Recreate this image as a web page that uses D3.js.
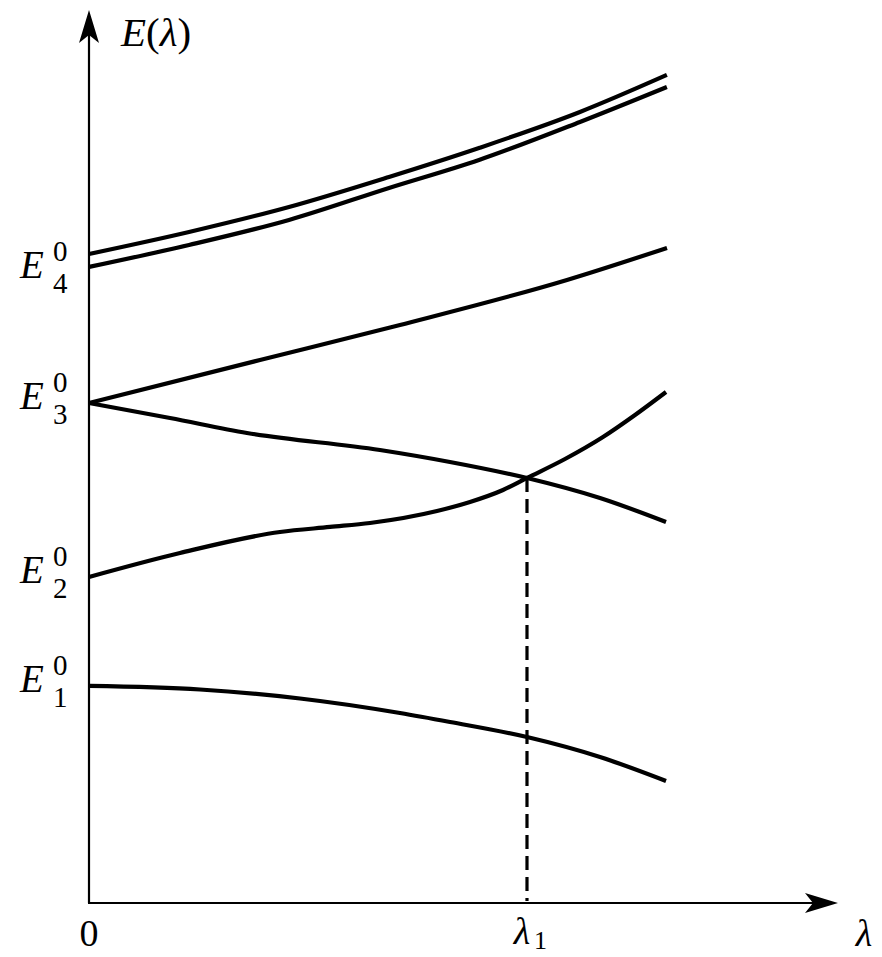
<!DOCTYPE html>
<html>
<head>
<meta charset="utf-8">
<script src="https://cdn.jsdelivr.net/npm/d3@7"></script>
<style>
  html, body { margin: 0; padding: 0; background: #fff; }
  svg { display: block; }
</style>
</head>
<body>
<svg id="chart" width="882" height="957"></svg>
<script>
// ---- data (λ, E) ----
const e4UpperX = [0, 1.736, 3.471, 5.207, 6.769, 8.521, 10.03];
const e4UpperY = [11.265, 11.647, 12.081, 12.602, 13.105, 13.730, 14.373];
const e4LowerX = [0, 1.736, 3.471, 5.207, 6.769, 8.521, 10.03];
const e4LowerY = [11.040, 11.422, 11.856, 12.411, 12.897, 13.557, 14.164];
const e3UpperX = [0, 2.968, 5.398, 8.296, 10.032];
const e3UpperY = [8.679, 9.425, 10.033, 10.814, 11.370];
const e3LowerX = [0, 1.406, 2.742, 5.050, 6.265, 7.602, 8.869, 10.015];
const e3LowerY = [8.679, 8.419, 8.158, 7.863, 7.655, 7.377, 7.030, 6.613];
const e2X = [0, 1.579, 3.315, 4.183, 4.877, 6.040, 6.613, 7.186, 7.602, 8.262, 8.921, 9.477, 10.015];
const e2Y = [5.659, 6.075, 6.440, 6.527, 6.596, 6.804, 6.961, 7.169, 7.377, 7.707, 8.089, 8.471, 8.870];
const e1X = [0, 1.927, 3.662, 5.398, 6.266, 7.602, 8.869, 10.015];
const e1Y = [3.767, 3.706, 3.550, 3.298, 3.142, 2.881, 2.534, 2.118];

const levelNames = ["1", "2", "3", "4"];
const levelValues = [3.767, 5.659, 8.679, 10.95];
const lambda1 = 7.602;
const crossingE = 7.377;
const xMax = 13, yMax = 15.5;

// ---- drawing ----
const FONT = "'Liberation Serif', 'Times New Roman', 'DejaVu Serif', serif";
const svg = d3.select("#chart");
const x = d3.scaleLinear().domain([0, xMax]).range([89, 838]);
const y = d3.scaleLinear().domain([0, yMax]).range([903, 10]);

const line = d3.line().x(d => x(d[0])).y(d => y(d[1])).curve(d3.curveMonotoneX);
const zip = (a, b) => a.map((v, i) => [v, b[i]]);

const curves = [
  zip(e4UpperX, e4UpperY), zip(e4LowerX, e4LowerY),
  zip(e3UpperX, e3UpperY), zip(e3LowerX, e3LowerY),
  zip(e2X, e2Y), zip(e1X, e1Y)
];

// axes
const x0 = x(0), y0 = y(0);
svg.append("line").attr("x1", x0).attr("y1", y0).attr("x2", x0).attr("y2", y(yMax) + 20)
  .attr("stroke", "#000").attr("stroke-width", 2.2);
svg.append("line").attr("x1", x0 - 1).attr("y1", y0).attr("x2", x(xMax) - 20).attr("y2", y0)
  .attr("stroke", "#000").attr("stroke-width", 2.2);

function arrow(tx, ty, angle) {
  svg.append("path")
    .attr("d", "M0,0 L-33,-10 L-25,0 L-33,10 Z")
    .attr("transform", `translate(${tx},${ty}) rotate(${angle})`)
    .attr("fill", "#000");
}
arrow(x0, y(yMax), -90);
arrow(x(xMax), y0, 0);

// dashed line
svg.append("line")
  .attr("x1", x(lambda1)).attr("x2", x(lambda1))
  .attr("y1", y(crossingE)).attr("y2", y0 - 2)
  .attr("stroke", "#000").attr("stroke-width", 3.2)
  .attr("stroke-dasharray", "14,7");

// curves
svg.selectAll("path.curve").data(curves).enter().append("path")
  .attr("class", "curve")
  .attr("d", line)
  .attr("fill", "none")
  .attr("stroke", "#000")
  .attr("stroke-width", 4.2)
  .attr("stroke-linecap", "butt")
  .attr("stroke-linejoin", "round");

function txt(xp, yp, size, s, italic, anchor) {
  return svg.append("text").attr("x", xp).attr("y", yp)
    .attr("font-family", FONT).attr("font-size", size)
    .attr("font-style", italic ? "italic" : "normal")
    .attr("text-anchor", anchor || "start").attr("fill", "#000").text(s);
}

// axis title
const t = svg.append("text").attr("x", 121).attr("y", 46)
  .attr("font-family", FONT).attr("font-size", 41).attr("fill", "#000");
t.append("tspan").attr("font-style", "italic").text("E");
t.append("tspan").text("(");
t.append("tspan").attr("font-style", "italic").text("λ");
t.append("tspan").text(")");

// level labels
levelNames.forEach((n, i) => {
  const by = y(levelValues[i]) + 6;
  txt(20, by, 39, "E", true);
  txt(53, by - 17, 29, "0", false);
  txt(53, by + 15, 29, n, false);
});

// x tick labels
txt(x(0), 946, 38, "0", false, "middle");
txt(x(lambda1) - 5, 944, 38, "λ", true, "middle");
txt(x(lambda1) + 7, 949, 26, "1", false, "start");
txt(864, 946, 38, "λ", true, "middle");
</script>
</body>
</html>
